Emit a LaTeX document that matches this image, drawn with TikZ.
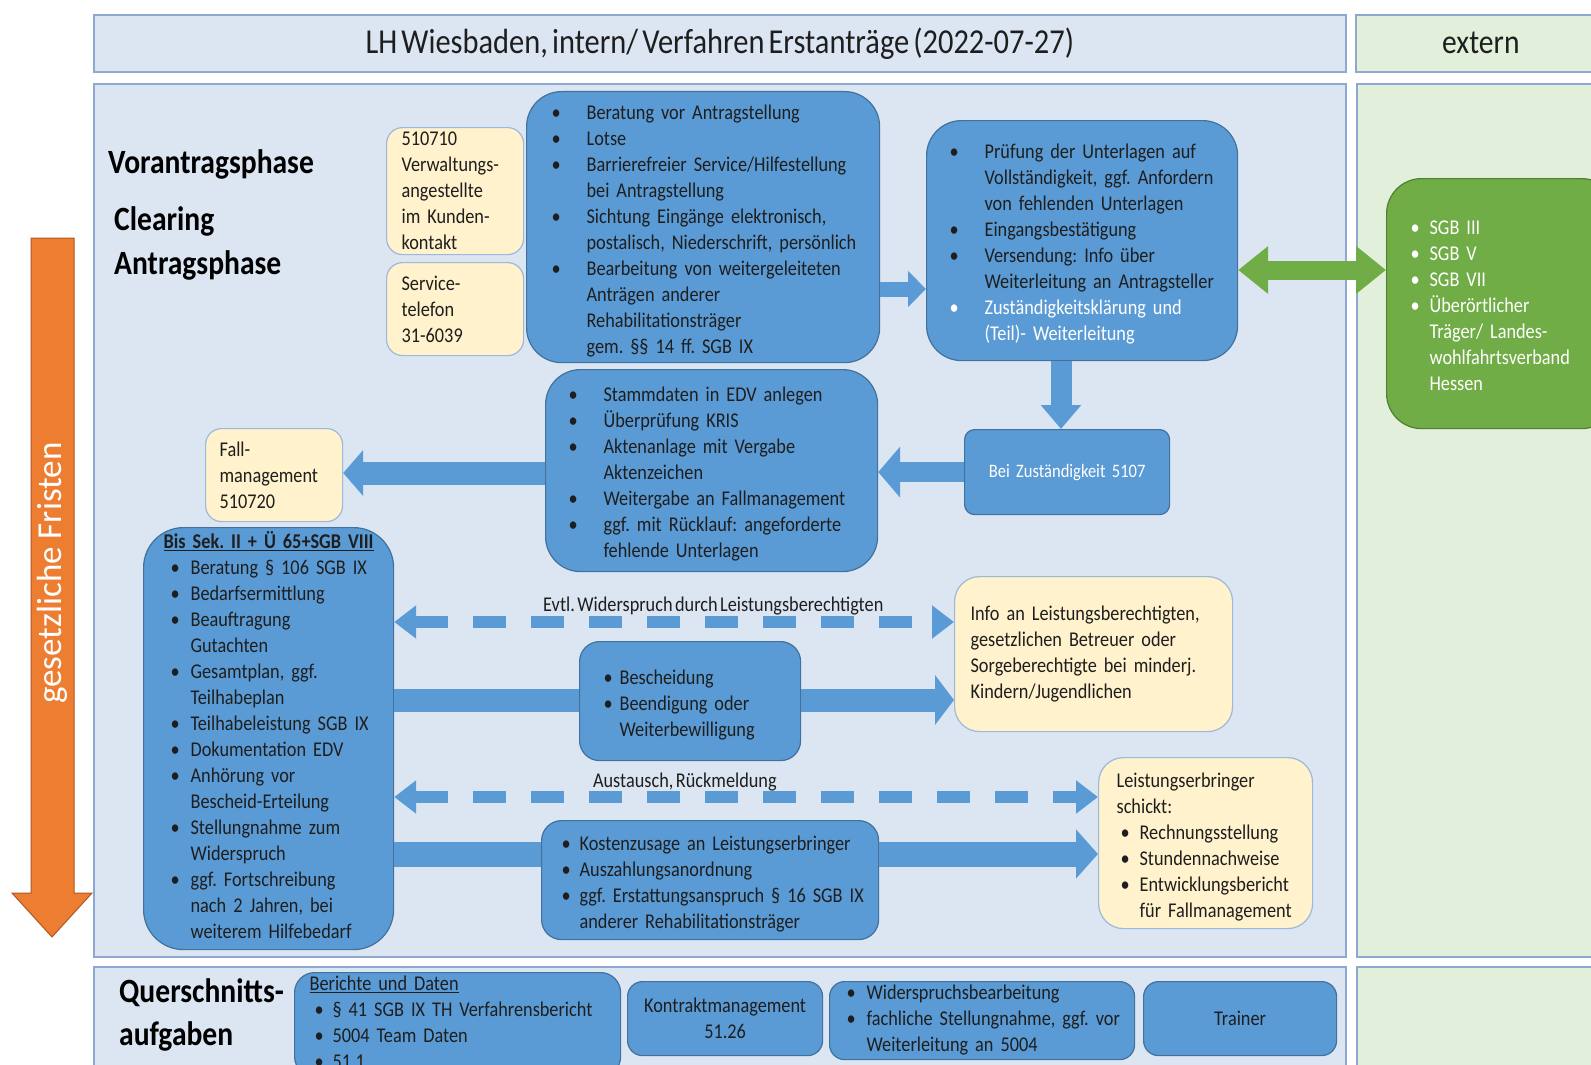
\documentclass[tikz,border=0pt]{standalone}
\usepackage{fontspec}
\setmainfont{Carlito}[FakeStretch=0.87, WordSpace=0.6]
\newfontfamily\plainfont{Carlito}
\usetikzlibrary{arrows.meta}
\definecolor{cPnl}{HTML}{DCE6F2}
\definecolor{cPnlB}{HTML}{8EA9D1}
\definecolor{cExt}{HTML}{E2EFDA}
\definecolor{cBlu}{HTML}{5B9BD5}
\definecolor{cBluD}{HTML}{41719C}
\definecolor{cYel}{HTML}{FFF2CC}
\definecolor{cYelB}{HTML}{9DB9D9}
\definecolor{cGrn}{HTML}{70AD47}
\definecolor{cGrnD}{HTML}{507E32}
\definecolor{cOrg}{HTML}{ED7D31}
\definecolor{cOrgD}{HTML}{AE5A21}
\definecolor{cTxt}{HTML}{1E1E1E}
\newlength\bo \newlength\bw
\newcommand\fsz{\fontsize{21}{26}\selectfont\frenchspacing\lineskip=0pt\relax}
\newcommand\itm[1]{\par\noindent\hspace*{\bo}\makebox[\bw][l]{\strut\textbullet}\parbox[t]{\dimexpr\hsize-\bo-\bw\relax}{\raggedright\strut #1\strut}}
\newcommand\pln[2][0pt]{\par\noindent\hspace*{#1}\strut #2}
\newcommand\itmx[1]{\noindent\hspace*{\bo}\makebox[\bw][l]{\strut\textbullet}\parbox[t]{\dimexpr\hsize-\bo-\bw\relax}{\raggedright\strut #1\strut}\par}
\newcommand\plnx[2][0pt]{\noindent\hspace*{#1}\strut #2\par}
\tikzset{
  box/.style={anchor=north west, inner xsep=4pt, inner ysep=0pt, align=left, font=\fsz, text=cTxt, line width=1.2pt},
  bbox/.style={box, fill=cBlu, draw=cBluD, rounded corners=#1},
  gbox/.style={box, fill=cGrn, draw=cGrnD, rounded corners=#1},
  ybox/.style={box, fill=cYel, draw=cYelB, rounded corners=#1},
  lst/.style 2 args={execute at begin node={\setlength\bo{#1pt}\setlength\bw{#2pt}}},
  panel/.style={anchor=north west, draw=cPnlB, line width=1.6pt, inner sep=0pt},
  sect/.style={anchor=west, inner sep=0pt, align=left, text=black},
  blk/.style n args={3}{draw=cBlu, line width=#1, -{Triangle[length=#2,width=#3]}},
  dsh/.style={draw=cBlu, line width=12pt, dash pattern=on 33pt off 25pt,
    {Triangle[length=22pt,width=32pt]}-{Triangle[length=22pt,width=32pt]}},
  lbl/.style={font=\fsz, text=cTxt, inner sep=1pt},
}
\begin{document}
\begin{tikzpicture}[x=1pt,y=-1pt]
\useasboundingbox (0,0) rectangle (1591,1065);
\fill[white] (0,0) rectangle (1591,1065);
\clip (0,0) rectangle (1591,1065);
% panels
\node[panel, fill=cPnl, minimum width=1252pt, minimum height=57pt, font=\fontsize{35}{40}\selectfont, text=cTxt] (hdr) at (93,14) {LH Wiesbaden, intern/ Verfahren Erstanträge (2022-07-27)};
\node[panel, fill=cExt, minimum width=250pt, minimum height=57pt, font=\fontsize{34}{40}\selectfont, text=cTxt] (hdrx) at (1355,14) {extern};
\node[panel, fill=cPnl, minimum width=1252pt, minimum height=873pt] (main) at (93,83) {};
\node[panel, fill=cExt, minimum width=250pt, minimum height=873pt] (mainx) at (1356,83) {};
\node[panel, fill=cPnl, minimum width=1252pt, minimum height=120pt] (bot) at (93,966) {};
\node[panel, fill=cExt, minimum width=250pt, minimum height=120pt] (botx) at (1356,966) {};
% section labels
\node[sect, font=\bfseries\fontsize{34}{44}\selectfont] (vor) at (108,164) {Vorantragsphase};
\node[sect, font=\bfseries\fontsize{34}{44}\selectfont] (clr) at (114,243) {Clearing\\Antragsphase};
\node[sect, font=\bfseries\fontsize{34}{43}\selectfont] (qa) at (119,1015) {Querschnitts-\\aufgaben};
% orange arrow
\fill[cOrg, draw=cOrgD, line width=1pt] (31,238) -- (74,238) -- (74,893) -- (92,893) -- (52,937) -- (12,893) -- (31,893) -- cycle;
\node[rotate=90, text=white, inner sep=0pt, font=\plainfont\fontsize{35}{40}\selectfont] (fr) at (52,573) {gesetzliche Fristen};
% yellow boxes
\node[ybox=16pt, inner xsep=15pt, text width=107pt, minimum height=127pt] (y1) at (386,127) {510710\newline Verwaltungs-\newline angestellte\newline im Kunden-\newline kontakt};
\node[ybox=16pt, inner xsep=15pt, text width=107pt, minimum height=93pt] (y2) at (386,262) {Service-\newline telefon\newline 31-6039};
\node[ybox=16pt, inner xsep=14pt, text width=109pt, minimum height=93pt] (fall) at (205,428) {Fall-\newline management\newline 510720};
\node[ybox=25pt, inner xsep=16pt, text width=246pt, minimum height=155pt] (info) at (954,576) {Info an Leistungsberechtigten,\newline gesetzlichen Betreuer oder\newline Sorgeberechtigte bei minderj.\newline Kindern/Jugendlichen};
\node[ybox=25pt, lst={18}{19}, text width=206pt, minimum height=171pt] (leis) at (1098,757) {\pln[14pt]{Leistungserbringer}\pln[14pt]{schickt:}\itm{Rechnungsstellung}\itm{Stundennachweise}\itm{Entwicklungsbericht\\für Fallmanagement}};
% blue boxes
\node[bbox=35pt, lst={21}{35}, text width=345pt, minimum height=271pt] (b1) at (526,91) {\itm{Beratung vor Antragstellung}\itm{Lotse}\itm{Barrierefreier Service/Hilfestellung\\bei Antragstellung}\itm{Sichtung Eingänge elektronisch,\\postalisch, Niederschrift, persönlich}\itm{Bearbeitung von weitergeleiteten\\Anträgen anderer\\Rehabilitationsträger\\gem. §§ 14 ff. SGB IX}};
\node[bbox=35pt, lst={19}{35}, text width=303pt, minimum height=240pt] (b2) at (926,120) {\itm{Prüfung der Unterlagen auf\\Vollständigkeit, ggf. Anfordern\\von fehlenden Unterlagen}\itm{Eingangsbestätigung}\itm{Versendung: Info über\\Weiterleitung an Antragsteller}\color{white}\itm{Zuständigkeitsklärung und\\(Teil)- Weiterleitung}};
\node[bbox=35pt, lst={19}{35}, text width=324pt, minimum height=202pt] (b3) at (545,369) {\itm{Stammdaten in EDV anlegen}\itm{Überprüfung KRIS}\itm{Aktenanlage mit Vergabe\\Aktenzeichen}\itm{Weitergabe an Fallmanagement}\itm{ggf. mit Rücklauf: angeforderte\\fehlende Unterlagen}};
\node[bbox=10pt, text width=197pt, minimum height=85pt, align=center, text=white, font=\fontsize{19}{24}\selectfont] (bei) at (964,429) {Bei Zuständigkeit 5107};
\node[bbox=40pt, lst={23}{20}, text width=242pt, minimum height=422pt] (lb) at (143,527) {{\centering\bfseries\strut\underline{Bis Sek. II + Ü 65+SGB VIII}\par}\itm{Beratung § 106 SGB IX}\itm{Bedarfsermittlung}\itm{Beauftragung\\Gutachten}\itm{Gesamtplan, ggf.\\Teilhabeplan}\itm{Teilhabeleistung SGB IX}\itm{Dokumentation EDV}\itm{Anhörung vor\\Bescheid-Erteilung}\itm{Stellungnahme zum\\Widerspruch}\itm{ggf. Fortschreibung\\nach 2 Jahren, bei\\weiterem Hilfebedarf}};
\node[bbox=20pt, lst={20}{16}, text width=213pt, minimum height=119pt] (bes) at (579,641) {\itm{Bescheidung}\itm{Beendigung oder\\Weiterbewilligung}};
\node[bbox=20pt, lst={16}{18}, text width=329pt, minimum height=119pt] (kos) at (541,820) {\itm{Kostenzusage an Leistungserbringer}\itm{Auszahlungsanordnung}\itm{ggf. Erstattungsanspruch § 16 SGB IX\\anderer Rehabilitationsträger}};
\node[gbox=35pt, lst={20}{19}, text width=222pt, minimum height=250pt, text=white] (grn) at (1386,178) {\itm{SGB III}\itm{SGB V}\itm{SGB VII}\itm{Überörtlicher\\Träger/ Landes-\\wohlfahrtsverband\\Hessen}};
% bottom row
\node[bbox=20pt, lst={16}{18}, text width=318pt, inner ysep=0pt] (ber) at (294,972) {\plnx[11pt]{\underline{Berichte und Daten}}\itmx{§ 41 SGB IX TH Verfahrensbericht}\itmx{5004 Team Daten}\itmx{51.1}};
\node[bbox=15pt, text width=187pt, minimum height=74pt, align=center] (kon) at (627,981) {Kontraktmanagement\\51.26};
\node[bbox=15pt, lst={13}{20}, text width=297pt, minimum height=74pt] (wid) at (829,981) {\itmx{Widerspruchsbearbeitung}\itmx{fachliche Stellungnahme, ggf. vor\\Weiterleitung an 5004}};
\node[bbox=15pt, text width=185pt, minimum height=74pt, align=center] (tra) at (1143,981) {Trainer};
% helper coordinates
\coordinate (yA) at (0,289);
\coordinate (xB) at (1061,0);
\coordinate (yF) at (0,473);
\coordinate (yG) at (0,270);
\coordinate (yD1) at (0,622);
\coordinate (yS1) at (0,700);
\coordinate (yD2) at (0,797);
\coordinate (yS2) at (0,854);
% connectors
\draw[blk={15pt}{18pt}{35pt}] (b1.east |- yA) -- (b2.west |- yA);
\draw[blk={21pt}{24pt}{39pt}] (b2.south -| xB) -- (bei.north -| xB);
\draw[blk={20pt}{22pt}{50pt}] (bei.west) -- (b3.east |- bei.west);
\draw[blk={23pt}{20pt}{45pt}] (b3.west |- yF) -- (fall.east |- yF);
\draw[draw=cGrn, line width=19pt, {Triangle[length=30pt,width=46pt]}-{Triangle[length=30pt,width=46pt]}] (b2.east |- yG) -- (grn.west |- yG);
\draw[dsh] (lb.east |- yD1) -- (info.west |- yD1) node[lbl, pos=0.57, yshift=16pt] (l1) {Evtl. Widerspruch durch Leistungsberechtigten};
\draw[draw=cBlu, line width=23pt] (lb.east |- yS1) -- (bes.west |- yS1);
\draw[blk={23pt}{19pt}{49pt}] (bes.east |- yS1) -- (info.west |- yS1);
\draw[dsh] (lb.east |- yD2) -- (leis.west |- yD2) node[lbl, pos=0.413, yshift=15pt] (l2) {Austausch, Rückmeldung};
\draw[draw=cBlu, line width=25pt] (lb.east |- yS2) -- (kos.west |- yS2);
\draw[blk={25pt}{22pt}{48pt}] (kos.east |- yS2) -- (leis.west |- yS2);
\end{tikzpicture}
\end{document}
